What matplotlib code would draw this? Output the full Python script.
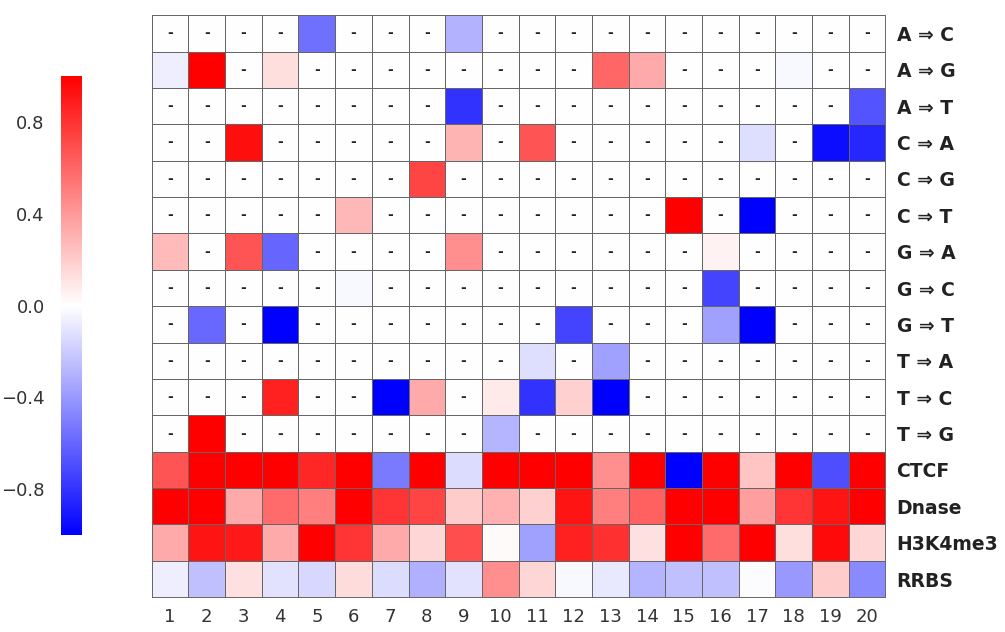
import numpy as np
import matplotlib.pyplot as plt

# rows (top to bottom) and columns
row_labels = ['A ⇒ C', 'A ⇒ G', 'A ⇒ T', 'C ⇒ A', 'C ⇒ G', 'C ⇒ T',
              'G ⇒ A', 'G ⇒ C', 'G ⇒ T', 'T ⇒ A', 'T ⇒ C', 'T ⇒ G',
              'CTCF', 'Dnase', 'H3K4me3', 'RRBS']
col_labels = [str(i) for i in range(1, 21)]

# mutation rows: 0 means no value (drawn as "-")
a_c = [0, 0, 0, 0, -0.56, 0, 0, 0, -0.3, 0, 0, 0, 0, 0, 0, 0, 0, 0, 0, 0]
a_g = [-0.07, 1.0, 0, 0.13, 0, 0, 0, 0, 0, 0, 0, 0, 0.6, 0.33, 0, 0, 0, -0.03, 0, 0]
a_t = [0, 0, 0, 0, 0, 0, 0, 0, -0.8, 0, 0, 0, 0, 0, 0, 0, 0, 0, 0, -0.67]
c_a = [0, 0, 0.94, 0, 0, 0, 0, 0, 0.29, 0, 0.67, 0, 0, 0, 0, 0, -0.13, 0, -0.95, -0.85]
c_g = [0, 0, 0, 0, 0, 0, 0, 0.73, 0, 0, 0, 0, 0, 0, 0, 0, 0, 0, 0, 0]
c_t = [0, 0, 0, 0, 0, 0.28, 0, 0, 0, 0, 0, 0, 0, 0, 1.0, 0, -1.0, 0, 0, 0]
g_a = [0.27, 0, 0.67, -0.6, 0, 0, 0, 0, 0.44, 0, 0, 0, 0, 0, 0, 0.05, 0, 0, 0, 0]
g_c = [0, 0, 0, 0, 0, -0.03, 0, 0, 0, 0, 0, 0, 0, 0, 0, -0.73, 0, 0, 0, 0]
g_t = [0, -0.59, 0, -1.0, 0, 0, 0, 0, 0, 0, 0, -0.73, 0, 0, 0, -0.37, -1.0, 0, 0, 0]
t_a = [0, 0, 0, 0, 0, 0, 0, 0, 0, 0, -0.13, 0, -0.37, 0, 0, 0, 0, 0, 0, 0]
t_c = [0, 0, 0, 0.87, 0, 0, -1.0, 0.33, 0, 0.08, -0.8, 0.18, -1.0, 0, 0, 0, 0, 0, 0, 0]
t_g = [0, 1.0, 0, 0, 0, 0, 0, 0, 0, -0.29, 0, 0, 0, 0, 0, 0, 0, 0, 0, 0]

# epigenetic rows
ctcf = [0.67, 1.0, 1.0, 1.0, 0.85, 1.0, -0.52, 1.0, -0.14, 1.0,
        1.0, 1.0, 0.44, 1.0, -1.0, 1.0, 0.23, 1.0, -0.69, 1.0]
dnase = [1.0, 1.0, 0.33, 0.58, 0.5, 1.0, 0.79, 0.73, 0.2, 0.31,
         0.18, 0.92, 0.5, 0.62, 1.0, 1.0, 0.38, 0.79, 0.92, 1.0]
h3k4me3 = [0.33, 0.92, 0.9, 0.33, 1.0, 0.79, 0.33, 0.16, 0.69, 0.02,
           -0.37, 0.87, 0.81, 0.12, 1.0, 0.58, 1.0, 0.13, 0.96, 0.16]
rrbs = [-0.07, -0.25, 0.12, -0.11, -0.15, 0.14, -0.14, -0.31, -0.11, 0.44,
        0.16, -0.03, -0.09, -0.29, -0.25, -0.25, -0.01, -0.4, 0.2, -0.46]

data = np.array([a_c, a_g, a_t, c_a, c_g, c_t, g_a, g_c, g_t, t_a, t_c, t_g,
                 ctcf, dnase, h3k4me3, rrbs])
n_mut = 12

fig = plt.figure(figsize=(10.05, 6.32), dpi=100)
ax = fig.add_axes([0.151, 0.055, 0.730, 0.921])
cax = fig.add_axes([0.061, 0.153, 0.021, 0.727])

mesh = ax.pcolormesh(data, cmap='bwr', vmin=-1, vmax=1,
                     edgecolors='#666666', linewidth=0.7)
ax.set_xlim(0, data.shape[1])
ax.set_ylim(data.shape[0], 0)

# "-" for empty mutation cells
for i in range(n_mut):
    for j in range(data.shape[1]):
        if data[i, j] == 0:
            ax.text(j + 0.5, i + 0.5, '-', ha='center', va='center',
                    fontsize=10, fontweight='bold', color='#222222')

ax.set_xticks(np.arange(data.shape[1]) + 0.5)
ax.set_xticklabels(col_labels, fontsize=13, color='#333333')
ax.set_yticks(np.arange(data.shape[0]) + 0.5)
ax.set_yticklabels(row_labels, fontsize=13.5, fontweight='bold', color='#222222')
ax.yaxis.tick_right()
ax.tick_params(length=0, pad=8)
for s in ax.spines.values():
    s.set_color('#666666')
    s.set_linewidth(0.7)

cbar = fig.colorbar(mesh, cax=cax, ticks=[-0.8, -0.4, 0.0, 0.4, 0.8])
cbar.outline.set_visible(False)
cax.yaxis.set_ticks_position('left')
cax.tick_params(length=0, labelsize=13, labelcolor='#333333', pad=12)
cbar.set_ticklabels(['\u22120.8', '\u22120.4', '0.0', '0.4', '0.8'])

fig.savefig('out.png', dpi=100)
